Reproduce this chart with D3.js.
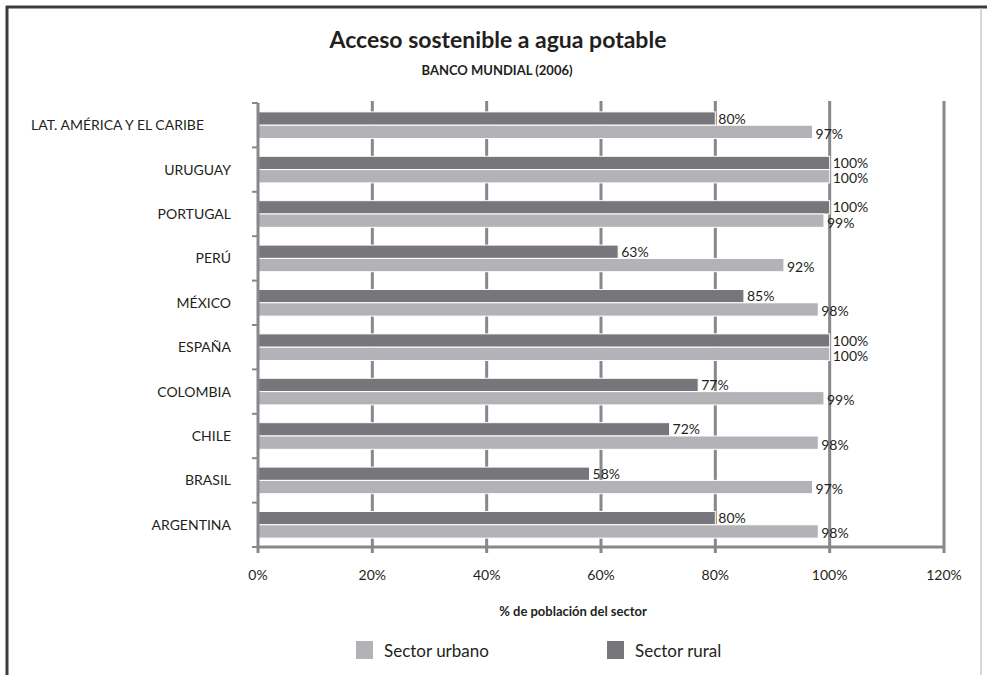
<!DOCTYPE html>
<html>
<head>
<meta charset="utf-8">
<script src="https://cdn.jsdelivr.net/npm/d3@7"></script>
<style>
  body { margin: 0; background: #fff; }
  text { font-family: Lato, "Open Sans", sans-serif; fill: #231f20; }
</style>
</head>
<body>
<script>
const width = 987
const height = 675

// data, top to bottom
const countries = ['LAT. AMÉRICA Y EL CARIBE', 'URUGUAY', 'PORTUGAL', 'PERÚ', 'MÉXICO',
  'ESPAÑA', 'COLOMBIA', 'CHILE', 'BRASIL', 'ARGENTINA']
const rural = [80, 100, 100, 63, 85, 100, 77, 72, 58, 80]
const urbano = [97, 100, 99, 92, 98, 100, 99, 98, 97, 98]
const xTicks = [0, 20, 40, 60, 80, 100, 120]
const series = [
  { key: 'rural', name: 'Sector rural', values: rural, color: '#77777b' },
  { key: 'urbano', name: 'Sector urbano', values: urbano, color: '#b3b3b7' }
]

const margin = { top: 103, left: 258, right: 43, bottom: 128 }

let svg = d3.select('body').append('svg')
  .attr('width', width)
  .attr('height', height)

// frame
svg.append('line').attr('x1', 7).attr('x2', 7).attr('y1', 6).attr('y2', height)
  .attr('stroke', '#3c3c3c').attr('stroke-width', 3)
svg.append('line').attr('x1', 6).attr('x2', width).attr('y1', 7).attr('y2', 7)
  .attr('stroke', '#3c3c3c').attr('stroke-width', 3)
svg.append('line').attr('x1', 981).attr('x2', 981).attr('y1', 8).attr('y2', height)
  .attr('stroke', '#c8c8c8').attr('stroke-width', 1.5)

svg.append('text')
  .attr('x', 498).attr('y', 48)
  .attr('text-anchor', 'middle')
  .style('font-size', '23px').style('font-weight', 'bold')
  .text('Acceso sostenible a agua potable')

svg.append('text')
  .attr('x', 497).attr('y', 75)
  .attr('text-anchor', 'middle')
  .style('font-size', '13px').style('font-weight', 'bold')
  .text('BANCO MUNDIAL (2006)')

const x = d3.scaleLinear()
  .domain([0, 120])
  .range([margin.left, width - margin.right])

const y = d3.scaleBand()
  .domain(countries)
  .range([margin.top, height - margin.bottom])
  .paddingInner(0.4)
  .paddingOuter(0.2)

const ySub = d3.scaleBand()
  .domain(series.map((s) => s.key))
  .range([0, y.bandwidth()])

// gridlines
svg.append('g')
  .selectAll('line')
  .data(xTicks.slice(1))
  .enter()
  .append('line')
  .attr('x1', (d) => x(d)).attr('x2', (d) => x(d))
  .attr('y1', margin.top - 2).attr('y2', height - margin.bottom)
  .attr('stroke', '#88888c').attr('stroke-width', 3)

// bars
let groups = svg.append('g')
  .selectAll('g')
  .data(series)
  .enter()
  .append('g')

groups.selectAll('rect')
  .data((s) => s.values.map((v, i) => ({ key: s.key, color: s.color, v: v, c: countries[i] })))
  .enter()
  .append('rect')
  .attr('x', x(0))
  .attr('y', (d) => y(d.c) + ySub(d.key))
  .attr('width', (d) => x(d.v) - x(0))
  .attr('height', ySub.bandwidth())
  .attr('fill', (d) => d.color)
  .attr('stroke', '#fff')
  .attr('stroke-width', 1)

groups.selectAll('text')
  .data((s) => s.values.map((v, i) => ({ key: s.key, v: v, c: countries[i] })))
  .enter()
  .append('text')
  .attr('x', (d) => x(d.v) + 3)
  .attr('y', (d) => y(d.c) + ySub(d.key) + ySub.bandwidth() / 2 + (d.key === 'rural' ? 5 : 7))
  .style('font-size', '14px')
  .text((d) => d.v + '%')

// y axis
const yAxis = svg.append('g')
  .attr('transform', `translate(${margin.left},0)`)
yAxis.append('line')
  .attr('y1', margin.top).attr('y2', height - margin.bottom)
  .attr('stroke', '#88888c').attr('stroke-width', 3)

const slotTop = (d) => y(d) - y.step() * y.paddingOuter()
yAxis.selectAll('.tk')
  .data(countries.map(slotTop).concat([height - margin.bottom]))
  .enter()
  .append('line')
  .attr('x1', -6).attr('x2', 0)
  .attr('y1', (d) => d).attr('y2', (d) => d)
  .attr('stroke', '#88888c').attr('stroke-width', 2)

yAxis.selectAll('.lbl')
  .data(countries)
  .enter()
  .append('text')
  .attr('x', (d, i) => i === 0 ? -54 : -27)
  .attr('y', (d) => y(d) + y.bandwidth() / 2 + 5)
  .attr('text-anchor', 'end')
  .style('font-size', '14px')
  .text((d) => d)

// x axis
const xAxis = svg.append('g')
  .attr('transform', `translate(0,${height - margin.bottom})`)
xAxis.append('line')
  .attr('x1', x(0)).attr('x2', x(120))
  .attr('stroke', '#88888c').attr('stroke-width', 3)
xAxis.selectAll('.tk')
  .data(xTicks)
  .enter()
  .append('line')
  .attr('x1', (d) => x(d)).attr('x2', (d) => x(d))
  .attr('y1', 0).attr('y2', 6)
  .attr('stroke', '#88888c').attr('stroke-width', 3)
xAxis.selectAll('.lbl')
  .data(xTicks)
  .enter()
  .append('text')
  .attr('x', (d) => x(d))
  .attr('y', 33)
  .attr('text-anchor', 'middle')
  .style('font-size', '14px')
  .text((d) => d + '%')

svg.append('text')
  .attr('x', 573).attr('y', 616)
  .attr('text-anchor', 'middle')
  .style('font-size', '13px').style('font-weight', 'bold')
  .text('% de población del sector')

// legend
const legend = [
  { s: series[1], x: 356 },
  { s: series[0], x: 607 }
]
let lg = svg.append('g')
  .selectAll('g')
  .data(legend)
  .enter()
  .append('g')
  .attr('transform', (d) => `translate(${d.x},641)`)
lg.append('rect')
  .attr('width', 17).attr('height', 18)
  .attr('fill', (d) => d.s.color)
lg.append('text')
  .attr('x', 28).attr('y', 16)
  .style('font-size', '17px')
  .text((d) => d.s.name)
</script>
</body>
</html>
